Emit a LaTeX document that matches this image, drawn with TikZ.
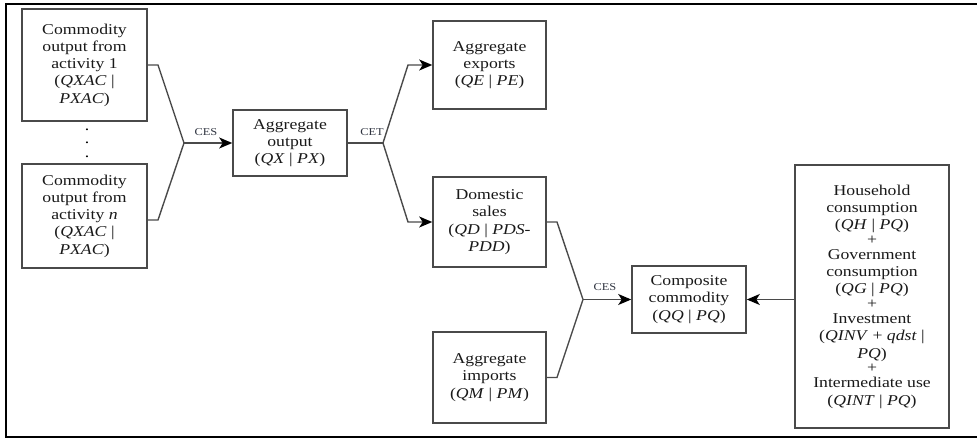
\documentclass[tikz,border=0pt]{standalone}
\usepackage{fontspec}
\setmainfont[FakeStretch=1.18]{Liberation Serif}
\usetikzlibrary{arrows.meta}
\definecolor{boxgray}{HTML}{4A4A4A}
\definecolor{lblgray}{HTML}{2F3440}
\tikzset{
  x=1pt, y=-1pt,
  box/.style={draw=boxgray, line width=1.6pt, rectangle, inner sep=0pt, align=center,
    font=\fontsize{15}{17.3}\selectfont, text=black!90},
  conn/.style={draw=boxgray, line width=1.4pt},
  arr/.style={conn, -{Stealth[length=13pt,width=11pt,inset=3.5pt,color=black]}},
  lbl/.style={font=\fontsize{10.5}{12}\selectfont, text=lblgray, inner sep=0pt},
  frame/.style={line width=2.2pt, draw=black}
}
\begin{document}
\begin{tikzpicture}
\useasboundingbox (0,0) rectangle (977,439);
% outer frame
\draw[frame] (977,4) -- (6,4) -- (6,437) -- (977,437);

\node[box, minimum width=125, minimum height=112] (a1) at (84.5,65)
  {Commodity\\output from\\activity 1\\(\textit{QXAC} |\\\textit{PXAC})};
\node[box, minimum width=125, minimum height=104] (an) at (84.5,216)
  {Commodity\\output from\\activity \textit{n}\\(\textit{QXAC} |\\\textit{PXAC})};
\node[font=\fontsize{15}{13.5}\selectfont, align=center, inner sep=0pt] (dots) at (87,143) {.\\.\\.};

\node[box, minimum width=114, minimum height=66] (ao) at (290,143)
  {Aggregate\\output\\(\textit{QX} | \textit{PX})};
\node[box, minimum width=113, minimum height=88] (ex) at (489.5,65)
  {Aggregate\\exports\\(\textit{QE} | \textit{PE})};
\node[box, minimum width=113, minimum height=90] (ds) at (489.5,222)
  {Domestic\\sales\\(\textit{QD} | \textit{PDS}-\\\textit{PDD})};
\node[box, minimum width=113, minimum height=91] (im) at (489.5,377.5)
  {Aggregate\\imports\\(\textit{QM} | \textit{PM})};
\node[box, minimum width=114, minimum height=67] (cc) at (689,299.5)
  {Composite\\commodity\\(\textit{QQ} | \textit{PQ})};
\node[box, minimum width=154, minimum height=263] (bb) at (872,296.5)
  {Household\\consumption\\(\textit{QH} | \textit{PQ})\\[-2.5pt]
   +\\[-2.5pt]
   Government\\consumption\\(\textit{QG} | \textit{PQ})\\[-2.5pt]
   +\\[-2.5pt]
   Investment\\(\textit{QINV} + \textit{qdst} |\\\textit{PQ})\\[-2.5pt]
   +\\[-2.5pt]
   Intermediate use\\(\textit{QINT} | \textit{PQ})};

% junctions
\coordinate (j1) at (184,143);
\coordinate (j2) at (383,143);
\coordinate (j3) at (583,299.5);

% CES (activities -> aggregate output)
\draw[conn] (a1.east) -- (158,65) -- (j1);
\draw[conn] (an.east |- 0,220) -- (158,220) -- (j1);
\draw[arr] (j1) -- (ao.west);
\node[lbl] (ces1) at (206,132) {CES};

% CET (aggregate output -> exports / domestic)
\draw[conn] (ao.east) -- (j2);
\draw[arr] (j2) -- (408,65) -- (ex.west);
\draw[arr] (j2) -- (408,222) -- (ds.west);
\node[lbl] (cet) at (372,132) {CET};

% CES (domestic + imports -> composite)
\draw[conn] (ds.east) -- (557,222) -- (j3);
\draw[conn] (im.east) -- (557,377.5) -- (j3);
\draw[arr] (j3) -- (cc.west);
\node[lbl] (ces2) at (605,287) {CES};

% demand -> composite
\draw[arr] (bb.west |- cc.east) -- (cc.east);
\end{tikzpicture}
\end{document}
